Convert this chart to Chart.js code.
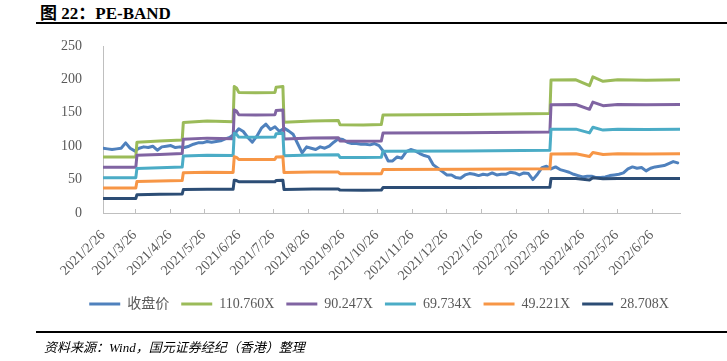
<!DOCTYPE html>
<html>
<head>
<meta charset="utf-8">
<script src="https://cdn.jsdelivr.net/npm/chart.js@4.4.0/dist/chart.umd.min.js"></script>
<style>
  body { margin: 0; width: 727px; height: 361px; background: #fff; position: relative; overflow: hidden; }
  #wrap { position: absolute; left: 0; top: 0; width: 727px; height: 361px; }
  .titulo { position: absolute; left: 40px; top: -1px; font: bold 17px 'Liberation Serif', 'Noto Sans CJK SC', serif; color: #000; white-space: nowrap; }
  .regla { position: absolute; left: 36px; right: 0; height: 2px; background: #000; }
  .fuente { position: absolute; left: 44px; top: 337px; font: italic 13px 'Liberation Serif', 'Noto Sans CJK SC', serif; color: #000; white-space: nowrap; }
</style>
</head>
<body>
<div class="titulo">图 22：PE-BAND</div>
<div class="regla" style="top:22px"></div>
<div id="wrap"><canvas id="grafico" width="727" height="361"></canvas></div>
<div class="regla" style="top:331px; left:36px"></div>
<div class="fuente">资料来源：Wind，国元证券经纪（香港）整理</div>

<script>
// fechas: dias contados desde 2021/2/26
const startDate = Date.UTC(2021, 1, 26);
const lastDay = 510;

const monthLabels = [
    '2021/2/26', '2021/3/26', '2021/4/26', '2021/5/26', '2021/6/26', '2021/7/26',
    '2021/8/26', '2021/9/26', '2021/10/26', '2021/11/26', '2021/12/26', '2022/1/26',
    '2022/2/26', '2022/3/26', '2022/4/26', '2022/5/26', '2022/6/26'
];

// precio de cierre, un valor cada 4 dias
const priceStep = 4;
const closePrice = [
    97, 96, 95, 96, 97, 105, 97, 93, 97, 99, 98, 100, 94, 99, 100, 101, 98, 99, 98, 100, 103, 105, 105, 107, 106,
    107, 108, 111, 113, 118, 126, 122, 113, 106, 115, 127, 133, 125, 129, 122, 127, 123, 118, 104, 90, 99, 97, 95, 99, 97,
    100, 106, 111, 110, 106, 104, 104, 103, 103, 102, 104, 101, 92, 78, 78, 84, 82, 92, 95, 93, 89, 86, 84, 72, 67,
    62, 57, 57, 53, 52, 57, 59, 58, 56, 58, 57, 60, 57, 58, 58, 61, 60, 57, 60, 59, 50, 58, 68, 70, 66,
    69, 65, 63, 61, 58, 56, 54, 55, 55, 53, 53, 54, 56, 57, 58, 60, 66, 69, 67, 68, 63, 67, 69, 70, 71, 74, 77, 75
];

// EPS implicito (banda / multiplo), puntos de cambio
const epsDays = [0, 29, 30, 50, 70, 71, 92, 115, 116, 118, 120, 135, 152, 153, 159, 160,
    185, 208, 209.5, 230, 246, 247.5, 320, 395, 396, 418, 430, 433, 442, 455, 480, 510];
const epsValues = [0.758, 0.758, 0.957, 0.972, 0.985, 1.224, 1.242, 1.233, 1.71, 1.69, 1.63, 1.625, 1.63, 1.70, 1.71, 1.228,
    1.245, 1.25, 1.193, 1.19, 1.195, 1.325, 1.33, 1.345, 1.797, 1.80, 1.72, 1.84, 1.78, 1.80, 1.795, 1.80];

const peMultiples = [110.760, 90.247, 69.734, 49.221, 28.708];
const seriesNames = ['收盘价', '110.760X', '90.247X', '69.734X', '49.221X', '28.708X'];
const seriesColors = ['#4f81bd', '#9bbb59', '#8064a2', '#4bacc6', '#f79646', '#2c4d75'];

const tickDays = monthLabels.map(s => {
    const [y, m, d] = s.split('/').map(Number);
    return (Date.UTC(y, m - 1, d) - startDate) / 86400000;
});

const serif = "'Liberation Serif', 'Noto Sans CJK SC', serif";
const gris = '#595959';

// Series
const datasets = [];
datasets.push({
    label: seriesNames[0],
    data: closePrice.map((v, i) => ({ x: i * priceStep, y: v }))
});
peMultiples.forEach(function(m, k) {
    datasets.push({
        label: seriesNames[k + 1],
        data: epsDays.map((d, i) => ({ x: d, y: epsValues[i] * m }))
    });
});
datasets.forEach(function(ds, i) {
    ds.borderColor = seriesColors[i];
    ds.backgroundColor = seriesColors[i];
    ds.borderWidth = 3;
    ds.pointRadius = 0;
    ds.tension = 0;
    ds.fill = false;
    ds.borderCapStyle = 'round';
    ds.borderJoinStyle = 'round';
    ds.order = datasets.length - i; // como Excel: la ultima serie encima
});

// Marcas del eje X hacia dentro
const marcasEje = {
    id: 'marcasEje',
    beforeDatasetsDraw(chart) {
        const { ctx, chartArea, scales } = chart;
        const x = scales.x;
        ctx.save();
        ctx.strokeStyle = '#bfbfbf';
        ctx.lineWidth = 1;
        x.ticks.forEach(function(t, i) {
            const px = Math.round(x.getPixelForTick(i)) + 0.5;
            ctx.beginPath();
            ctx.moveTo(px, chartArea.bottom);
            ctx.lineTo(px, chartArea.bottom - 4);
            ctx.stroke();
        });
        ctx.restore();
    }
};

const ctx = document.getElementById('grafico').getContext('2d');
const grafico = new Chart(ctx, {
    type: 'line',
    data: { datasets: datasets },
    plugins: [marcasEje],
    options: {
        responsive: false,
        animation: false,
        layout: { padding: { top: 46, left: 31, right: 0, bottom: 40 } },
        plugins: {
            tooltip: { enabled: false },
            legend: {
                position: 'bottom',
                align: 'center',
                labels: {
                    usePointStyle: true,
                    pointStyle: 'line',
                    pointStyleWidth: 31,
                    padding: 12,
                    color: gris,
                    font: { family: serif, size: 14 },
                    sort: (a, b) => a.datasetIndex - b.datasetIndex
                }
            }
        },
        scales: {
            x: {
                type: 'linear',
                min: 0,
                max: lastDay,
                afterBuildTicks: function(scale) {
                    scale.ticks = tickDays.map(v => ({ value: v }));
                },
                afterFit: function(scale) { scale.height = 72; },
                grid: { display: false },
                border: { color: '#bfbfbf', width: 1 },
                ticks: {
                    autoSkip: false,
                    minRotation: 45,
                    maxRotation: 45,
                    padding: 6,
                    color: gris,
                    font: { family: serif, size: 14 },
                    callback: (value, index) => monthLabels[index]
                }
            },
            y: {
                min: 0,
                max: 250,
                afterFit: function(scale) { scale.width = 72; },
                grid: { display: false },
                border: { color: '#bfbfbf', width: 1 },
                ticks: {
                    stepSize: 50,
                    padding: 13,
                    color: gris,
                    font: { family: serif, size: 14 }
                }
            },
            derecha: {
                type: 'linear',
                position: 'right',
                afterFit: function(scale) { scale.width = 47; },
                grid: { display: false },
                border: { display: false },
                ticks: { display: false }
            }
        }
    }
});
</script>
</body>
</html>
